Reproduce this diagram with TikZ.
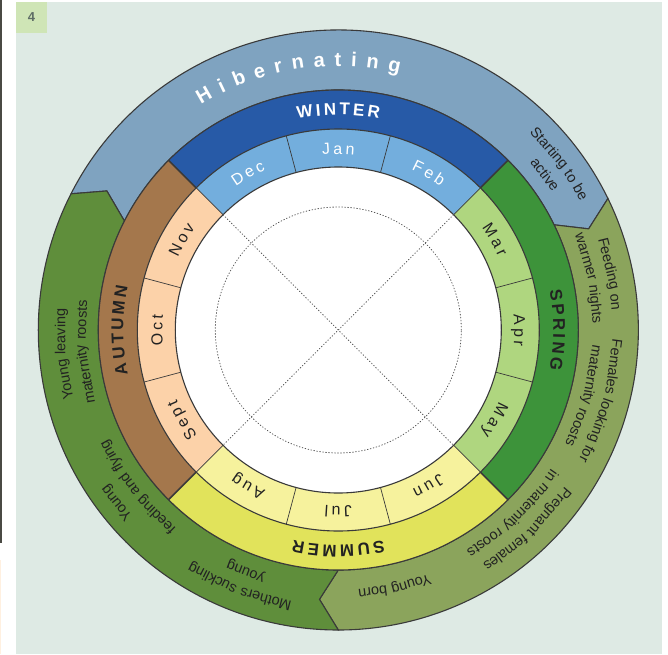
\documentclass[tikz,border=0pt]{standalone}
\usepackage{fontspec}
\setmainfont{Liberation Sans}
\definecolor{panelc}{HTML}{DEEAE4}
\definecolor{numboxc}{HTML}{CFE5B6}
\definecolor{numtextc}{HTML}{5F6E66}
\definecolor{hibc}{HTML}{7FA3C0}
\definecolor{olivec}{HTML}{8BA45C}
\definecolor{greenc}{HTML}{5F8E3B}
\definecolor{winterc}{HTML}{275AA7}
\definecolor{wintermc}{HTML}{73AEDD}
\definecolor{springc}{HTML}{3D933A}
\definecolor{springmc}{HTML}{AFD67F}
\definecolor{summerc}{HTML}{E1E35B}
\definecolor{summermc}{HTML}{F6F29D}
\definecolor{autumnc}{HTML}{A4774C}
\definecolor{autumnmc}{HTML}{FCD2A9}
\definecolor{linec}{HTML}{3A3A3A}
\definecolor{labc}{HTML}{222222}
\definecolor{dotc}{HTML}{555555}
\definecolor{edgec}{HTML}{4A4A44}

\ExplSyntaxOn
\seq_new:N \l_arcw_words_seq
\NewDocumentCommand\ForEachChar{m m}{\str_map_inline:nn {#2} {#1{##1}}}
\NewDocumentCommand\ForEachWord{m m}{
  \seq_set_split:Nnn \l_arcw_words_seq {~} {#2}
  \seq_map_inline:Nn \l_arcw_words_seq {#1{##1}}
}
\ExplSyntaxOff

\newcounter{arcch}
\newdimen\ArcTotal
\newdimen\ArcSpDim
\newdimen\ArcChW
\newcommand\ArcWidthOf[1]{%
  \settowidth\ArcChW{\pgfinterruptpicture\ArcFont #1\endpgfinterruptpicture}}
\newcommand\ArcMeasure[1]{\ArcWidthOf{#1}%
  \global\advance\ArcTotal by \ArcChW
  \global\advance\ArcTotal by \ArcSpDim}
\newcommand\ArcPlace[1]{%
  \ArcWidthOf{#1}%
  \pgfmathsetmacro\ArcMid{\ArcCur - deg((\ArcChW/2)/\ArcR)}%
  \stepcounter{arcch}%
  \node[arcchar,arccur,rotate=\ArcMid-90] (ac\arabic{arcch}) at (\ArcMid:\ArcR) {\ArcFont #1};%
  \pgfmathsetmacro\ArcTmp{\ArcCur - deg((\ArcChW+\ArcSpDim)/\ArcR)}%
  \global\let\ArcCur\ArcTmp}
% letter by letter: #1 style, #2 font, #3 baseline radius, #4 centre angle, #5 extra letter spacing, #6 text
\newcommand\ArcText[6]{%
  \tikzset{arccur/.style={#1}}%
  \def\ArcFont{#2}\def\ArcR{#3}%
  \ArcSpDim=#5pt\relax
  \global\ArcTotal=0pt\relax
  \ForEachChar\ArcMeasure{#6}%
  \global\advance\ArcTotal by -\ArcSpDim
  \pgfmathsetmacro\ArcTmp{#4 + deg((\ArcTotal/2)/#3)}%
  \global\let\ArcCur\ArcTmp
  \ForEachChar\ArcPlace{#6}}
% word by word: #1 style, #2 font, #3 baseline radius, #4 centre angle, #5 text
\newcommand\ArcWords[5]{%
  \tikzset{arccur/.style={#1}}%
  \def\ArcFont{#2}\def\ArcR{#3}%
  \settowidth\ArcSpDim{\pgfinterruptpicture\ArcFont\ \endpgfinterruptpicture}%
  \global\ArcTotal=0pt\relax
  \ForEachWord\ArcMeasure{#5}%
  \global\advance\ArcTotal by -\ArcSpDim
  \pgfmathsetmacro\ArcTmp{#4 + deg((\ArcTotal/2)/#3)}%
  \global\let\ArcCur\ArcTmp
  \ForEachWord\ArcPlace{#5}}

\newcommand\Sector[5]{% style, a1, a2, inner r, outer r
  \path[#1] (#2:#5) arc[start angle=#2, end angle=#3, radius=#5] -- (#3:#4)
    arc[start angle=#3, end angle=#2, radius=#4] -- cycle;}

\newcommand\actfont{\fontsize{14.5}{17}\selectfont}
\newcommand\monfont{\fontsize{16}{19}\selectfont}
\newcommand\seafont{\fontsize{17}{20}\selectfont\bfseries}
\newcommand\hibfont{\fontsize{20}{24}\selectfont\bfseries}

\tikzset{
  arcchar/.style={inner sep=0pt, outer sep=0pt, anchor=base},
  ringline/.style={draw=linec, line width=1.1pt},
  monthline/.style={draw=linec, line width=0.7pt},
  seasonline/.style={draw=linec, line width=1.5pt},
  dotline/.style={draw=dotc, line width=0.8pt, dash pattern=on 0.8pt off 2.2pt, line cap=round},
  actseg/.style={draw=linec, line width=1.1pt, line join=miter},
  darklab/.style={text=labc},
  whitelab/.style={text=white}
}

\begin{document}
\begin{tikzpicture}[x=1pt,y=1pt]
\useasboundingbox (-338.3,-324) rectangle (329.7,330);
\fill[white] (-338.3,-324) rectangle (329.7,330);
% left edge strip
\fill[edgec] (-338.3,330) rectangle (-336.6,-213);
\fill[orange!12] (-338.3,-230) rectangle (-337.3,-324);
% panel
\fill[panelc] (-322.3,328) rectangle (323.7,-324);
\fill[numboxc] (-322.3,328) rectangle (-291.3,297);
\node[text=numtextc, font=\fontsize{13}{15}\selectfont\bfseries] (num) at (-306.8,312.5) {4};

% outer activity ring
\path[actseg, fill=hibc] (153:300) arc[start angle=153, end angle=26, radius=300]
  -- (22:270) -- (26:240) arc[start angle=26, end angle=153, radius=240] -- (149:270) -- cycle;
\path[actseg, fill=olivec] (26:300) arc[start angle=26, end angle=-90, radius=300]
  -- (-94:270) -- (-90:240) arc[start angle=-90, end angle=26, radius=240] -- (22:270) -- cycle;
\path[actseg, fill=greenc] (-90:300) arc[start angle=-90, end angle=-207, radius=300]
  -- (-211:270) -- (-207:240) arc[start angle=-207, end angle=-90, radius=240] -- (-94:270) -- cycle;

% season ring
\Sector{fill=winterc}{45}{135}{201}{240}
\Sector{fill=springc}{-45}{45}{201}{240}
\Sector{fill=summerc}{-135}{-45}{201}{240}
\Sector{fill=autumnc}{135}{225}{201}{240}
% month ring
\Sector{fill=wintermc}{45}{135}{163}{201}
\Sector{fill=springmc}{-45}{45}{163}{201}
\Sector{fill=summermc}{-135}{-45}{163}{201}
\Sector{fill=autumnmc}{135}{225}{163}{201}
\fill[white] (0,0) circle[radius=163];

% boundaries
\foreach \a in {15,45,...,345} { \path[monthline] (\a:163) -- (\a:201); }
\foreach \a in {45,135,225,315} { \path[seasonline] (\a:201) -- (\a:240); }
\path[ringline] (0,0) circle[radius=163];
\path[ringline] (0,0) circle[radius=201];
\path[ringline] (0,0) circle[radius=240];

% dotted inner guides
\path[dotline] (0,0) circle[radius=123];
\path[dotline] (135:163) -- (-45:163);
\path[dotline] (45:163) -- (-135:163);

% Hibernating
\ArcText{whitelab}{\hibfont}{264}{99}{9.5}{Hibernating}

% seasons
\ArcText{whitelab}{\seafont}{215}{90}{3}{WINTER}
\ArcText{darklab}{\seafont}{215}{0}{3}{SPRING}
\ArcText{darklab}{\seafont}{215}{-90}{3}{SUMMER}
\ArcText{darklab}{\seafont}{215}{180}{3}{AUTUMN}

% months
\ArcText{whitelab}{\monfont}{176}{120}{3}{Dec}
\ArcText{whitelab}{\monfont}{176}{90}{3}{Jan}
\ArcText{whitelab}{\monfont}{176}{60}{3}{Feb}
\ArcText{darklab}{\monfont}{176}{30}{3}{Mar}
\ArcText{darklab}{\monfont}{176}{0}{3}{Apr}
\ArcText{darklab}{\monfont}{176}{-30}{3}{May}
\ArcText{darklab}{\monfont}{176}{-60}{3}{Jun}
\ArcText{darklab}{\monfont}{176}{-90}{3}{Jul}
\ArcText{darklab}{\monfont}{176}{-120}{3}{Aug}
\ArcText{darklab}{\monfont}{176}{-150}{3}{Sept}
\ArcText{darklab}{\monfont}{176}{180}{3}{Oct}
\ArcText{darklab}{\monfont}{176}{150}{3}{Nov}

% activities
\ArcWords{darklab}{\actfont}{274}{37}{Starting to be}
\ArcWords{darklab}{\actfont}{254}{37}{active}
\ArcWords{darklab}{\actfont}{274}{11.7}{Feeding on}
\ArcWords{darklab}{\actfont}{254}{11.7}{warmer nights}
\ArcWords{darklab}{\actfont}{273}{-15}{Females looking for}
\ArcWords{darklab}{\actfont}{253}{-15}{maternity roosts}
\ArcWords{darklab}{\actfont}{274}{-46.5}{Pregnant females}
\ArcWords{darklab}{\actfont}{254}{-46.5}{in maternity roosts}
\ArcWords{darklab}{\actfont}{260}{-77.6}{Young born}
\ArcWords{darklab}{\actfont}{274}{-111}{Mothers suckling}
\ArcWords{darklab}{\actfont}{255}{-111}{young}
\ArcWords{darklab}{\actfont}{277}{-142}{Young}
\ArcWords{darklab}{\actfont}{255}{-142}{feeding and flying}
\ArcWords{darklab}{\actfont}{273}{185}{Young leaving}
\ArcWords{darklab}{\actfont}{252}{185}{maternity roosts}
\end{tikzpicture}
\end{document}
